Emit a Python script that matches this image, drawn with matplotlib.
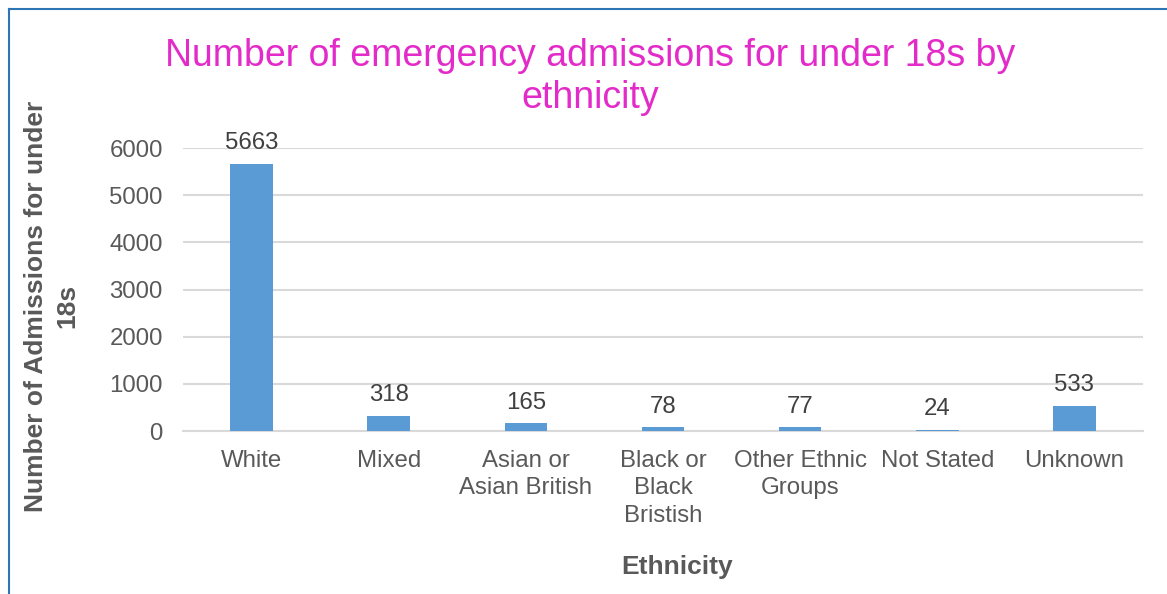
import matplotlib
matplotlib.use("Agg")
import matplotlib.pyplot as plt
from matplotlib.lines import Line2D

categories = ["White", "Mixed", "Asian or\nAsian British", "Black or\nBlack\nBristish",
              "Other Ethnic\nGroups", "Not Stated", "Unknown"]
values = [5663, 318, 165, 78, 77, 24, 533]
yticks = [0, 1000, 2000, 3000, 4000, 5000, 6000]

plt.rcParams['font.family'] = ['Liberation Sans', 'DejaVu Sans']

fig = plt.figure(figsize=(11.67, 5.94), dpi=100)
ax = fig.add_axes([0.1568, 0.2744, 0.8226, 0.4764])

x = list(range(len(categories)))
ax.bar(x, values, width=0.31, color='#5B9BD5', zorder=3)
ax.set_xlim(-0.5, len(categories) - 0.5)
ax.set_ylim(0, 6000)
ax.set_yticks(yticks)
ax.set_yticklabels([str(t) for t in yticks])
ax.set_xticks(x)
ax.set_xticklabels(categories, linespacing=1.33)
ax.tick_params(axis='both', length=0, labelsize=17.3, colors='#595959')
ax.tick_params(axis='x', pad=13.5)
ax.tick_params(axis='y', pad=14.5)
ax.grid(axis='y', color='#D9D9D9', linewidth=1.5, zorder=0)
for s in ['top', 'right', 'left']:
    ax.spines[s].set_visible(False)
ax.spines['bottom'].set_color('#D9D9D9')
ax.spines['bottom'].set_linewidth(1.5)

for xi, v in zip(x, values):
    ax.annotate(str(v), (xi, v), xytext=(0, 7), textcoords='offset points',
                ha='center', va='bottom', fontsize=17.3, color='#404040')

fig.text(0.5056, 0.871, "Number of emergency admissions for under 18s by\nethnicity",
         ha='center', va='center', fontsize=27, color='#E32BC9', linespacing=1.22)
fig.text(0.044, 0.485, "Number of Admissions for under\n18s", rotation=90,
         ha='center', va='center', fontsize=19, fontweight='bold', color='#595959',
         linespacing=1.38)
fig.text(0.580, 0.0455, "Ethnicity", ha='center', va='center', fontsize=19,
         fontweight='bold', color='#595959')

# partial outer border (left and top)
fig.add_artist(Line2D([0.0077, 0.0077], [0.0, 0.985], color='#2E75B6', linewidth=1.5,
                      transform=fig.transFigure))
fig.add_artist(Line2D([0.0077, 1.0], [0.985, 0.985], color='#2E75B6', linewidth=1.5,
                      transform=fig.transFigure))

fig.savefig("out.png", dpi=100)
